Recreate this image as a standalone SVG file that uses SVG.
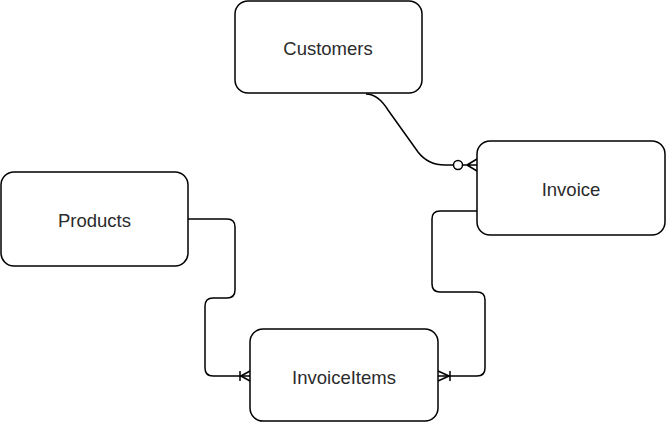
<svg xmlns="http://www.w3.org/2000/svg" width="666" height="424" viewBox="0 0 666 424">
<style>
.node rect{fill:#fff;stroke:#000;stroke-width:1.5}
.node text{font-family:"Liberation Sans",Arial,sans-serif;font-size:18.5px;fill:#2b2b2b;text-anchor:middle;dominant-baseline:central}
.edge{fill:none;stroke:#000;stroke-width:1.5}
</style>
<rect width="666" height="424" fill="#fff"/>
<g id="connectors">
  <path class="edge" d="M366 94 Q378 94 388 110 L418 152 Q428 165 445 165 L453 165"/>
  <circle class="edge" cx="458" cy="165" r="4.5"/>
  <path class="edge" d="M463 165 L477 165 M467 165 L477 159 M467 165 L477 171"/>
  <path class="edge" d="M188 219 L227 219 Q235 219 235 227 L235 290 Q235 298 227 298 L213 298 Q205 298 205 306 L205 368 Q205 376 213 376 L250 376"/>
  <path class="edge" d="M240 371 L240 381 M241 376 L250 371 M241 376 L250 381"/>
  <path class="edge" d="M477 211 L440 211 Q432 211 432 219 L432 284 Q432 292 440 292 L477 292 Q485 292 485 300 L485 368 Q485 376 477 376 L438 376"/>
  <path class="edge" d="M450 371 L450 381 M449 376 L438 371 M449 376 L438 381"/>
</g>
<g id="customers" class="node"><rect x="235" y="1" width="187" height="92" rx="13"/><text x="328" y="48">Customers</text></g>
<g id="invoice" class="node"><rect x="477" y="141" width="188" height="94" rx="13"/><text x="571" y="189">Invoice</text></g>
<g id="products" class="node"><rect x="1" y="172" width="187" height="94" rx="13"/><text x="94.5" y="220">Products</text></g>
<g id="invoiceitems" class="node"><rect x="250" y="329" width="188" height="92" rx="13"/><text x="344" y="377">InvoiceItems</text></g>
</svg>
